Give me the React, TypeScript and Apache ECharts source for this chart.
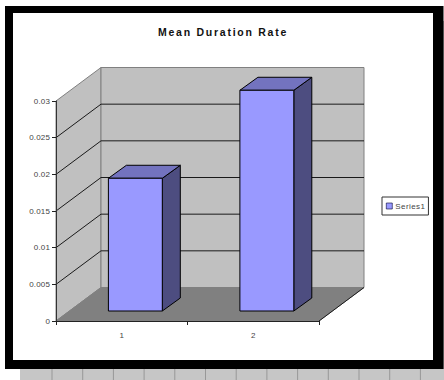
import React, { useEffect, useRef } from "react";
import * as echarts from "echarts";

const categories = ["1", "2"];
const seriesValues = [0.0181, 0.0301];
const yTicks = [0.005, 0.01, 0.015, 0.02, 0.025];
const bandRuleCount = 13;

const FONT = "Liberation Sans";
const DEPTH_X = 45;
const DEPTH_Y = -33.5;
const BAR_SHIFT_X = 13.6;
const BAR_SHIFT_Y = -10;
const BAR_DEPTH_X = 18;
const BAR_DEPTH_Y = -13;
const BAR_WIDTH_RATIO = 0.41;

const renderRoom = (_params: any, api: any) => {
  const [x0, y0] = api.coord([0, 0]);
  const [, yTop] = api.coord([0, 0.03]);
  const plotWidth = api.size([1, 0])[0] * categories.length;
  const x1 = x0 - api.size([1, 0])[0] / 2 + plotWidth;
  const left = x0 - api.size([1, 0])[0] / 2;
  const wallStroke = { stroke: "#808080", lineWidth: 1 };
  const gridStroke = { stroke: "#1a1a1a", lineWidth: 1 };
  const children: any[] = [
    {
      type: "polygon",
      shape: {
        points: [
          [left, y0],
          [left + DEPTH_X, y0 + DEPTH_Y],
          [left + DEPTH_X, yTop + DEPTH_Y],
          [left, yTop],
        ],
      },
      style: { fill: "#c0c0c0", ...wallStroke },
    },
    {
      type: "rect",
      shape: {
        x: left + DEPTH_X,
        y: yTop + DEPTH_Y,
        width: x1 - left,
        height: y0 - yTop,
      },
      style: { fill: "#c0c0c0", ...wallStroke },
    },
    {
      type: "polygon",
      shape: {
        points: [
          [left, y0],
          [x1, y0],
          [x1 + DEPTH_X, y0 + DEPTH_Y],
          [left + DEPTH_X, y0 + DEPTH_Y],
        ],
      },
      style: { fill: "#808080", stroke: "#808080", lineWidth: 1 },
    },
    {
      type: "line",
      shape: { x1, y1: y0, x2: x1 + DEPTH_X, y2: y0 + DEPTH_Y },
      style: gridStroke,
    },
  ];
  yTicks.forEach((tick) => {
    const [, y] = api.coord([0, tick]);
    children.push(
      {
        type: "line",
        shape: { x1: left, y1: y, x2: left + DEPTH_X, y2: y + DEPTH_Y },
        style: gridStroke,
      },
      {
        type: "line",
        shape: {
          x1: left + DEPTH_X,
          y1: y + DEPTH_Y,
          x2: x1 + DEPTH_X,
          y2: y + DEPTH_Y,
        },
        style: gridStroke,
      }
    );
  });
  return { type: "group", children };
};

const renderBar = (_params: any, api: any) => {
  const [cx, base] = api.coord([api.value(0), 0]);
  const [, top] = api.coord([api.value(0), api.value(1)]);
  const width = api.size([1, 0])[0] * BAR_WIDTH_RATIO;
  const xl = cx - width / 2 + BAR_SHIFT_X;
  const xr = xl + width;
  const yt = top + BAR_SHIFT_Y;
  const yb = base + BAR_SHIFT_Y;
  const edge = { stroke: "#000000", lineWidth: 1, lineJoin: "miter" };
  return {
    type: "group",
    children: [
      {
        type: "polygon",
        shape: {
          points: [
            [xr, yt],
            [xr + BAR_DEPTH_X, yt + BAR_DEPTH_Y],
            [xr + BAR_DEPTH_X, yb + BAR_DEPTH_Y],
            [xr, yb],
          ],
        },
        style: { fill: "#4d4d80", ...edge },
      },
      {
        type: "polygon",
        shape: {
          points: [
            [xl, yt],
            [xl + BAR_DEPTH_X, yt + BAR_DEPTH_Y],
            [xr + BAR_DEPTH_X, yt + BAR_DEPTH_Y],
            [xr, yt],
          ],
        },
        style: { fill: "#7373bf", ...edge },
      },
      {
        type: "rect",
        shape: { x: xl, y: yt, width, height: yb - yt },
        style: { fill: "#9999ff", ...edge },
      },
    ],
  };
};

export default function App() {
  const ref = useRef<HTMLDivElement>(null);

  useEffect(() => {
    document.body.style.margin = "0";
    const chart = echarts.init(ref.current!, undefined, { renderer: "svg" });

    const bandRules = Array.from({ length: bandRuleCount }, (_, k) => ({
      type: "rect",
      z: -20,
      shape: { x: 51.5 + k * 30.7, y: 369, width: 1, height: 11 },
      style: { fill: "#989898" },
    }));

    chart.setOption({
      animation: false,
      backgroundColor: "#ffffff",
      title: {
        text: "Mean Duration Rate",
        left: 223,
        top: 24,
        textAlign: "center",
        textStyle: {
          fontFamily: FONT,
          fontSize: 10.5,
          fontWeight: "bold",
          color: "#111111",
        },
      },
      legend: {
        left: 382,
        top: 197,
        orient: "vertical",
        data: [
          {
            name: "Series1",
            icon: "rect",
            itemStyle: { color: "#9999ff", borderColor: "#000033", borderWidth: 0.6 },
          },
        ],
        itemWidth: 6,
        itemHeight: 6,
        itemGap: 0,
        padding: [5, 6, 5, 4],
        backgroundColor: "#ffffff",
        borderColor: "#333333",
        borderWidth: 1,
        borderRadius: 0,
        textStyle: {
          fontFamily: FONT,
          fontSize: 8,
          color: "#444444",
          padding: [2, 0, 0, -2],
        },
      },
      grid: { left: 56, top: 101, width: 263, height: 220 },
      xAxis: {
        type: "category",
        data: categories,
        z: 5,
        axisLine: { show: true, lineStyle: { color: "#222222" } },
        axisTick: { show: true, length: 4, lineStyle: { color: "#222222" } },
        axisLabel: {
          fontFamily: FONT,
          fontSize: 8,
          color: "#444444",
          margin: 10,
        },
        splitLine: { show: false },
      },
      yAxis: {
        type: "value",
        min: 0,
        max: 0.03,
        interval: 0.005,
        z: 5,
        axisLine: { show: true, lineStyle: { color: "#333333" } },
        axisTick: { show: true, length: 4, lineStyle: { color: "#222222" } },
        axisLabel: {
          fontFamily: FONT,
          fontSize: 8,
          color: "#444444",
          margin: 6,
        },
        splitLine: { show: false },
      },
      graphic: {
        elements: [
          {
            type: "rect",
            z: -20,
            shape: { x: 20, y: 369, width: 424, height: 11 },
            style: { fill: "#c6c6c6" },
          },
          {
            type: "rect",
            z: -20,
            shape: { x: 443, y: 21, width: 1, height: 348 },
            style: { fill: "#a8a8a8" },
          },
          ...bandRules,
          {
            type: "rect",
            z: -15,
            shape: { x: 5, y: 6, width: 438.5, height: 363 },
            style: { fill: "#000000" },
          },
          {
            type: "rect",
            z: -10,
            shape: { x: 13, y: 13, width: 420, height: 347 },
            style: { fill: "#ffffff" },
          },
        ],
      },
      series: [
        {
          type: "custom",
          name: "room",
          silent: true,
          clip: false,
          z: 1,
          data: [[0, 0]],
          renderItem: renderRoom,
          encode: { x: 0, y: 1 },
        },
        {
          type: "custom",
          name: "Series1",
          clip: false,
          z: 3,
          itemStyle: { color: "#9999ff", borderColor: "#000000", borderWidth: 0.6 },
          data: seriesValues.map((v, i) => [i, v]),
          renderItem: renderBar,
          encode: { x: 0, y: 1 },
        },
      ],
    });

    // Tracking is wider on the title and the legend entry than on the axis labels.
    ref.current!.querySelectorAll("text").forEach((node) => {
      const label = node.textContent;
      const tracking =
        label === "Mean Duration Rate" ? "1.75px" : label === "Series1" ? "0.4px" : "0.15px";
      (node as SVGTextElement).style.letterSpacing = tracking;
      if (label === "Mean Duration Rate") {
        node.setAttribute("dx", "-5");
        node.setAttribute("dy", "-3");
      }
    });

    return () => chart.dispose();
  }, []);

  return <div ref={ref} style={{ width: 444, height: 380 }} />;
}
